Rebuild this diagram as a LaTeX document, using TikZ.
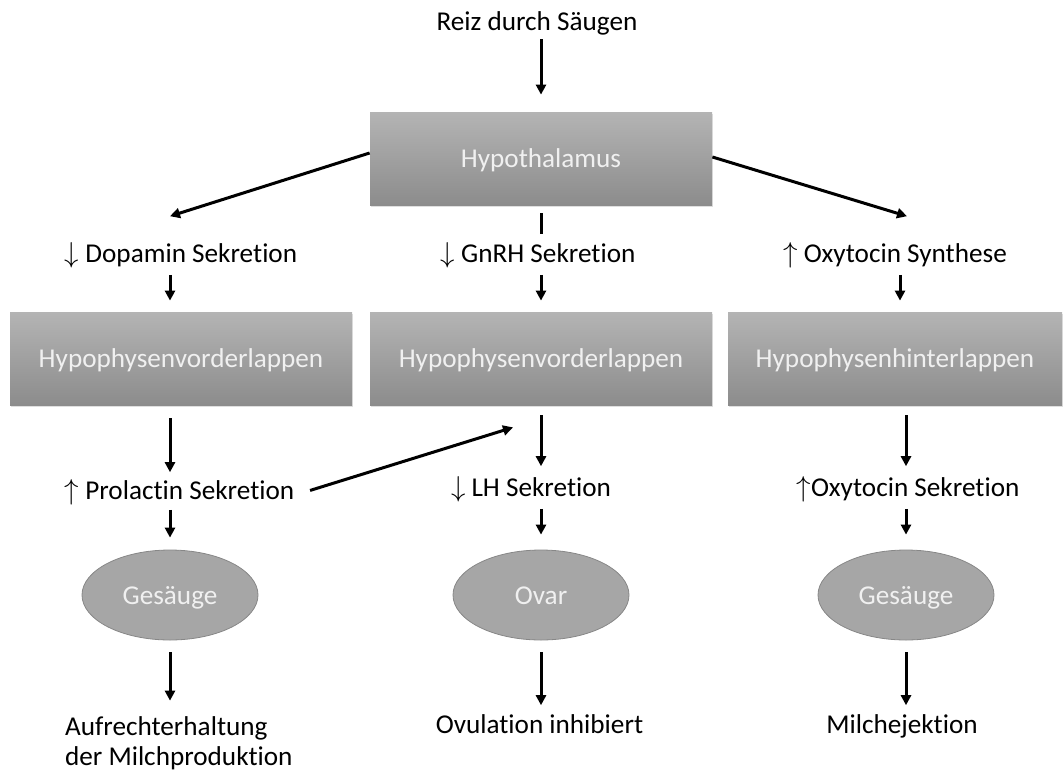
\documentclass[tikz,border=0pt]{standalone}
\usepackage{fontspec}
\setmainfont{Carlito}[Ligatures=NoCommon]
\usetikzlibrary{arrows.meta,shapes.geometric,shadows}
\definecolor{boxtop}{RGB}{180,180,180}
\definecolor{boxbottom}{RGB}{140,140,140}
\definecolor{ovalfill}{RGB}{166,166,166}
\definecolor{ovaldraw}{RGB}{135,135,135}
\tikzset{% define styles for the boxes, ovals, labels and arrows
  organ/.style={rectangle, minimum width=171pt, minimum height=46.5pt,
    top color=boxtop, bottom color=boxbottom, text=white!94!black,
    text height=1.15em, text depth=0.25em,
    drop shadow={shadow xshift=0.6pt, shadow yshift=-0.8pt, opacity=0.25}},
  target/.style={ellipse, minimum width=88pt, minimum height=45pt,
    fill=ovalfill, draw=ovaldraw, line width=0.4pt, text=white!94!black,
    text height=1.15em, text depth=0.25em},
  lbl/.style={inner sep=2pt, text height=0.75em, text depth=0.25em},
  arr/.style={line width=1.5pt, -{Triangle[length=5pt,width=5pt]}}
}

\begin{document}
\begin{tikzpicture}[x=0.5pt, y=-0.5pt, every node/.style={font=\fontsize{13.6}{15}\selectfont}]
\useasboundingbox (0,0) rectangle (1064,771);

% top: stimulus and hypothalamus
\node [lbl] (reiz) at (537,25) {Reiz durch Säugen};
\node [organ] (hyp) at (541,158.5) {Hypothalamus};

% first row of labels
\node [lbl] (dopa) at (181,257) {$\downarrow$ Dopamin Sekretion};
\node [lbl] (gnrh) at (538,257) {$\downarrow$ GnRH Sekretion};
\node [lbl] (oxysyn) at (895,257) {$\uparrow$ Oxytocin Synthese};

% pituitary boxes
\node [organ] (hvlA) at (181,358.5) {Hypophysenvorderlappen};
\node [organ] (hvlB) at (541,358.5) {Hypophysenvorderlappen};
\node [organ, minimum width=167pt] (hhl) at (895,358.5) {Hypophysenhinterlappen};

% second row of labels
\node [lbl] (prl) at (179.5,494) {$\uparrow$ Prolactin Sekretion};
\node [lbl] (lh) at (531,491) {$\downarrow$ LH Sekretion};
\node [lbl] (oxysek) at (908,491) {$\uparrow$Oxytocin Sekretion};

% target organs
\node [target] (gesA) at (170,595) {Gesäuge};
\node [target] (ovar) at (541,595) {Ovar};
\node [target] (gesB) at (906,595) {Gesäuge};

% effects
\node [align=left, anchor=base west] (milchprod) at (58,765) {Aufrechterhaltung\\der Milchproduktion};
\node [lbl] (ovul) at (539.5,728) {Ovulation inhibiert};
\node [lbl] (miej) at (902,728) {Milchejektion};

% arrows from the top
\draw [arr, shorten >=8.5pt] (hyp.north |- reiz.south) -- (hyp.north);
\draw [arr] ([yshift=2.75pt]hyp.west) -- ([xshift=-5.5pt,yshift=13.2pt]dopa.north);
\draw [arr] ([yshift=0.75pt]hyp.east) -- ([xshift=6pt,yshift=13.2pt]oxysyn.north);
\draw [line width=1.5pt, shorten <=4pt, shorten >=4.2pt] (hyp.south) -- (hyp.south |- gnrh.north);

% arrows into the pituitary
\draw [arr, shorten <=1.7pt, shorten >=5.5pt] (dopa.south -| gesA) -- (hvlA.north -| gesA);
\draw [arr, shorten <=1.7pt, shorten >=5.5pt] (gnrh.south -| ovar) -- (hvlB.north);
\draw [arr, shorten <=1.7pt, shorten >=5.5pt] ([xshift=2.5pt]oxysyn.south) -- ([xshift=2.5pt]oxysyn.south |- hhl.north);

% arrows out of the pituitary
\draw [arr, shorten <=6.5pt, shorten >=3.7pt] (hvlA.south -| gesA) -- (prl.north -| gesA);
\draw [arr, shorten <=5pt, shorten >=5.2pt] (hvlB.south) -- (hvlB.south |- lh.north);
\draw [arr, shorten <=5pt, shorten >=5.2pt] (hhl.south -| gesB) -- (oxysek.north -| gesB);
\draw [arr, shorten <=6pt] (prl.east) -- ([xshift=-14pt,yshift=-11pt]hvlB.south);

% arrows to the organs
\draw [arr, shorten <=0.7pt, shorten >=6pt] (prl.south -| gesA) -- (gesA.north);
\draw [arr, shorten <=1.7pt, shorten >=7.5pt] (lh.south -| ovar) -- (ovar.north);
\draw [arr, shorten <=1.7pt, shorten >=7.5pt] (oxysek.south -| gesB) -- (gesB.north);

% arrows to the effects
\draw [arr, shorten <=6pt, shorten >=4.2pt] (gesA.south) -- (gesA.south |- milchprod.north);
\draw [arr, shorten <=6pt, shorten >=4.2pt] (ovar.south) -- (ovar.south |- ovul.north);
\draw [arr, shorten <=6pt, shorten >=4.2pt] (gesB.south) -- (gesB.south |- miej.north);

\end{tikzpicture}
\end{document}
